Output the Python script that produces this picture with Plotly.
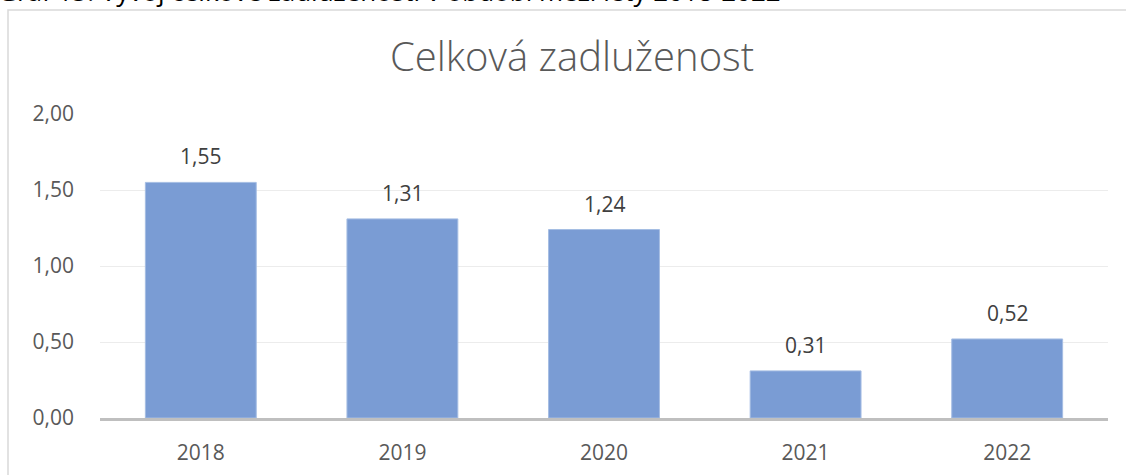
import plotly.graph_objects as go

years = ["2018", "2019", "2020", "2021", "2022"]
values = [1.55, 1.31, 1.24, 0.31, 0.52]
tick_vals = [0, 0.5, 1.0, 1.5, 2.0]
tick_text = ["0,00", "0,50", "1,00", "1,50", "2,00"]
labels = [f"{v:.2f}".replace(".", ",") for v in values]
title_text = "Celková zadluženost"
caption_text = "Graf 15: Vývoj celkové zadluženosti v období mezi lety 2018-2022"

W, H = 1126, 475
L, R, T, B = 100, 18, 114, 57
pw = W - L - R
ph = H - T - B

def px(x):
    return (x - L) / pw

def py(y):
    return (H - B - y) / ph

fig = go.Figure()
fig.add_trace(go.Bar(
    x=years, y=values,
    marker=dict(color="#7a9cd4", line=dict(color="#a5bde3", width=1)),
    width=0.55, hoverinfo="skip",
))

for i, (v, lab) in enumerate(zip(values, labels)):
    fig.add_annotation(x=i, y=v, xref="x", yref="y", text=lab, showarrow=False,
                       yshift=26, yanchor="middle",
                       font=dict(size=21, color="#404040", family="Open Sans"))

fig.update_layout(
    width=W, height=H,
    margin=dict(l=L, r=R, t=T, b=B),
    paper_bgcolor="white", plot_bgcolor="white",
    showlegend=False,
    font=dict(family="Open Sans", color="#595959"),
    title=dict(text=title_text, xref="container", x=572 / W, xanchor="center",
               yref="container", y=1 - 57 / H, yanchor="middle",
               font=dict(size=40, color="#595959", family="Open Sans", weight=300)),
    xaxis=dict(type="category", range=[-0.5, len(years) - 0.5],
               showgrid=False, showline=True,
               linecolor="#bfbfbf", linewidth=3,
               ticks="", tickfont=dict(size=21, color="#595959"),
               ticklabelstandoff=14, automargin=False, fixedrange=True),
    yaxis=dict(range=[0, 2.0], tickvals=tick_vals, ticktext=tick_text,
               showgrid=True, gridcolor="#ececec", gridwidth=1,
               zeroline=False, showline=False, ticks="",
               tickfont=dict(size=21, color="#595959"), ticklabelstandoff=25,
               automargin=False, fixedrange=True),
    bargap=0.45,
)

# outer chart frame
fig.add_shape(type="rect", xref="paper", yref="paper",
              x0=px(8), x1=px(1135), y0=py(485), y1=py(10),
              line=dict(color="#d9d9d9", width=1.5), fillcolor="rgba(0,0,0,0)",
              layer="below")

# caption above the frame, clipped at the page top as in the source
fig.add_annotation(text=caption_text,
                   xref="paper", yref="paper", x=px(-4), y=py(11),
                   xanchor="left", yanchor="bottom", showarrow=False,
                   font=dict(size=26, color="#000000", family="Open Sans"))

fig.write_html("out.html", config={"displayModeBar": False},
               post_script="document.body.style.margin='0';")
